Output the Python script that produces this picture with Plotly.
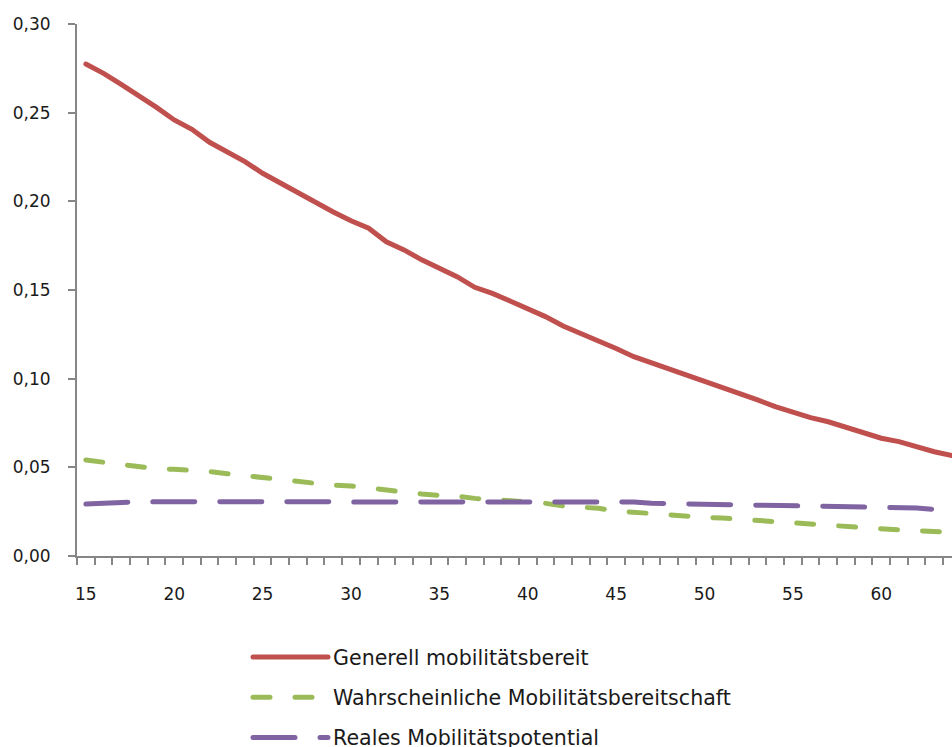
import plotly.graph_objects as go

# Alter (Jahre)
ages = list(range(15, 65))

# Anteil je Altersjahr
generell = [
    0.2774, 0.2722, 0.2660, 0.2596, 0.2530, 0.2459, 0.2406, 0.2333, 0.2280, 0.2224,
    0.2158, 0.2102, 0.2049, 0.1996, 0.1940, 0.1890, 0.1848, 0.1772, 0.1726, 0.1670,
    0.1622, 0.1575, 0.1515, 0.1481, 0.1438, 0.1397, 0.1350, 0.1297, 0.1256, 0.1218,
    0.1170, 0.1124, 0.1090, 0.1055, 0.1015, 0.0983, 0.0949, 0.0917, 0.0880, 0.0842,
    0.0808, 0.0780, 0.0757, 0.0726, 0.0692, 0.0664, 0.0645, 0.0613, 0.0588, 0.0566,
]
wahrscheinlich = [
    0.0541, 0.0528, 0.0517, 0.0508, 0.0492, 0.0489, 0.0485, 0.0476, 0.0464, 0.0453,
    0.0442, 0.0427, 0.0417, 0.0410, 0.0399, 0.0395, 0.0382, 0.0372, 0.0361, 0.0350,
    0.0342, 0.0338, 0.0325, 0.0316, 0.0314, 0.0305, 0.0297, 0.0282, 0.0275, 0.0269,
    0.0254, 0.0246, 0.0241, 0.0235, 0.0226, 0.0218, 0.0214, 0.0207, 0.0199, 0.0190,
    0.0184, 0.0180, 0.0175, 0.0169, 0.0162, 0.0154, 0.0147, 0.0143, 0.0137, 0.0134,
]
real = [
    0.0293, 0.0297, 0.0306, 0.0306, 0.0306, 0.0306, 0.0306, 0.0306, 0.0306, 0.0306,
    0.0306, 0.0306, 0.0306, 0.0306, 0.0306, 0.0306, 0.0306, 0.0306, 0.0306, 0.0306,
    0.0306, 0.0306, 0.0306, 0.0306, 0.0306, 0.0306, 0.0306, 0.0306, 0.0306, 0.0306,
    0.0306, 0.0304, 0.0297, 0.0295, 0.0293, 0.0293, 0.0293, 0.0293, 0.0286, 0.0284,
    0.0284, 0.0284, 0.0283, 0.0278, 0.0272, 0.0272, 0.0272, 0.0271, 0.0263, 0.0261,
]

series_names = [
    "Generell mobilitätsbereit",
    "Wahrscheinliche Mobilitätsbereitschaft",
    "Reales Mobilitätspotential",
]
colors = ["#C0504D", "#9BBB59", "#8064A2"]

x_ticks = [15, 20, 25, 30, 35, 40, 45, 50, 55, 60]
y_ticks = [0.00, 0.05, 0.10, 0.15, 0.20, 0.25, 0.30]

FONT = "DejaVu Sans"
AXIS = "#868686"
TEXT = "#1a1a1a"

fig = go.Figure()
fig.add_trace(go.Scatter(x=ages, y=generell, mode="lines", name=series_names[0],
                         line=dict(color=colors[0], width=5), legendgroup="a"))
fig.add_trace(go.Scatter(x=ages, y=wahrscheinlich, mode="lines", name=series_names[1],
                         line=dict(color=colors[1], width=5, dash="17px,25px"),
                         legendgroup="b"))
fig.add_trace(go.Scatter(x=ages, y=real, mode="lines", name=series_names[2],
                         line=dict(color=colors[2], width=5, dash="42px,25px"),
                         legendgroup="c"))

fig.update_layout(
    width=952, height=747,
    margin=dict(l=77, r=0, t=24, b=191, autoexpand=False),
    paper_bgcolor="white", plot_bgcolor="white",
    separators=", ",
    font=dict(family=FONT, size=17, color=TEXT),
    showlegend=True,
    legend=dict(
        x=(248 - 77) / 875, xanchor="left",
        y=(556 - 637) / 532, yanchor="top",
        orientation="v", traceorder="grouped", tracegroupgap=10.5,
        itemwidth=75, font=dict(family=FONT, size=20.6, color=TEXT),
        bgcolor="rgba(0,0,0,0)",
    ),
)

fig.update_xaxes(
    range=[14.5, 64.0], tickmode="array", tickvals=x_ticks,
    ticktext=[str(v) for v in x_ticks],
    ticks="", showgrid=False, zeroline=False,
    showline=True, linecolor=AXIS, linewidth=2,
    ticklabelstandoff=22, tickfont=dict(size=17),
    minor=dict(tick0=14.5, dtick=1, ticks="outside", ticklen=7,
               tickwidth=2, tickcolor=AXIS, showgrid=False),
)
fig.update_yaxes(
    range=[0, 0.30], tickmode="array", tickvals=y_ticks, tickformat=".2f",
    ticks="outside", ticklen=7, tickwidth=2, tickcolor=AXIS,
    showgrid=False, zeroline=False,
    showline=True, linecolor=AXIS, linewidth=2,
    ticklabelstandoff=14, tickfont=dict(size=17),
)

# round line caps for the series and legend strokes
round_caps = """
var gd = document.getElementById('{plot_id}');
function roundCaps() {
  gd.querySelectorAll('.scatterlayer path.js-line, .legendlines path').forEach(function (p) {
    p.style.strokeLinecap = 'round';
  });
}
roundCaps();
gd.on('plotly_afterplot', roundCaps);
"""

fig.write_html("out.html", post_script=round_caps)
